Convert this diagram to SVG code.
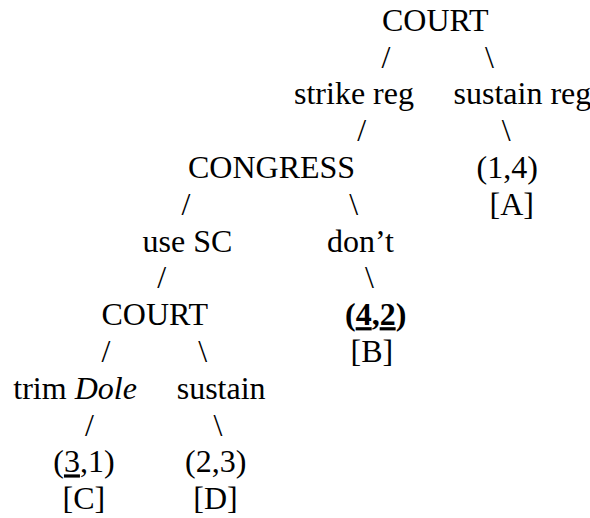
<svg xmlns="http://www.w3.org/2000/svg" width="590" height="518" viewBox="0 0 590 518">
<style>
text{font-size:32px;fill:#000}
.b{font-weight:bold}
.i{font-style:italic}
.u{text-decoration:underline}
</style>
<rect width="590" height="518" fill="#fff"/>
<g font-family="'Liberation Serif', 'Times New Roman', Times, serif">
<g id="connectors">
<text x="381.5" y="67.6">/</text>
<text x="485" y="67.6">\</text>
<text x="357.3" y="141.2">/</text>
<text x="501.7" y="141.2">\</text>
<text x="181.5" y="214.8">/</text>
<text x="349.3" y="214.8">\</text>
<text x="157.3" y="288.4">/</text>
<text x="365" y="288.4">\</text>
<text x="101.5" y="362">/</text>
<text x="198.3" y="362">\</text>
<text x="85" y="435.6">/</text>
<text x="213.5" y="435.6">\</text>
</g>
<g id="court-root"><text x="382" y="30.8">COURT</text></g>
<g id="strike-reg"><text x="294" y="104.4">strike reg</text></g>
<g id="sustain-reg"><text x="453.5" y="104.4">sustain reg</text></g>
<g id="congress"><text x="188" y="178">CONGRESS</text></g>
<g id="outcome-a"><text x="476.5" y="178">(1,4)</text><text x="489.5" y="214.8">[A]</text></g>
<g id="use-sc"><text x="142.5" y="251.6">use SC</text></g>
<g id="dont"><text x="327" y="251.6">don’t</text></g>
<g id="court-2"><text x="101.5" y="325.2">COURT</text></g>
<g id="outcome-b"><text x="345" y="325.2" class="b">(<tspan class="u">4</tspan>,<tspan class="u">2</tspan>)</text><text x="350.5" y="362">[B]</text></g>
<g id="trim-dole"><text x="13.3" y="398.8">trim <tspan class="i">Dole</tspan></text></g>
<g id="sustain"><text x="176.7" y="398.8">sustain</text></g>
<g id="outcome-c"><text x="53.3" y="472.4">(<tspan class="u">3</tspan>,1)</text><text x="62.5" y="509.2">[C]</text></g>
<g id="outcome-d"><text x="185" y="472.4">(2,3)</text><text x="193.3" y="509.2">[D]</text></g>
</g>
</svg>
